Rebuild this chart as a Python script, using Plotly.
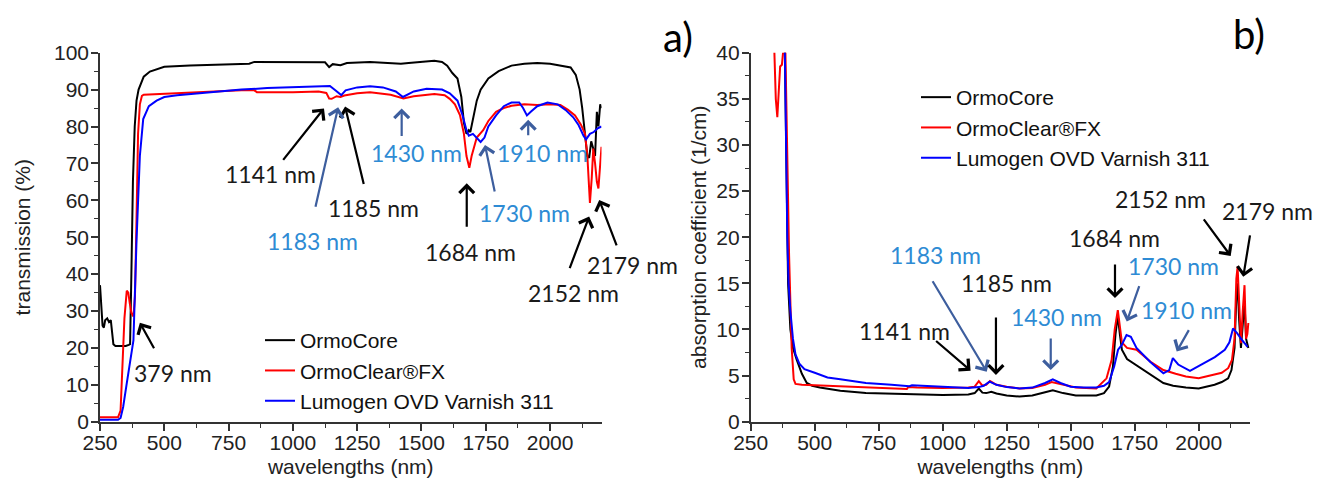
import plotly.graph_objects as go

# ---------------- data: panel a) transmission (%) ----------------
core_t_wl = [250, 255, 260, 265, 270, 278, 285, 292, 298, 302, 310, 330, 350, 362, 367, 372, 378, 385, 392,
             400, 420, 444, 470, 500, 600, 700, 755, 800, 830, 850, 900, 1000, 1100, 1125, 1141, 1155, 1185,
             1210, 1300, 1380, 1420, 1450, 1500, 1550, 1580, 1600, 1620, 1640, 1655, 1665, 1675, 1684, 1690,
             1700, 1715, 1730, 1760, 1800, 1850, 1900, 1950, 2000, 2050, 2080, 2100, 2115, 2125, 2135, 2145,
             2152, 2160, 2168, 2175, 2182, 2188, 2195, 2200]
core_t = [37, 30, 26, 25.5, 27.5, 28, 27, 27.5, 24, 21, 20.5, 20.5, 20.5, 20.8, 21, 40, 65, 80, 87,
          90, 93.5, 94.9, 95.6, 96.2, 96.5, 96.7, 96.9, 97.0, 97.0, 97.5, 97.5, 97.5, 97.6, 97.4, 96.1, 96.9, 96.6,
          97.2, 97.5, 97.3, 97.0, 97.2, 97.6, 97.8, 97.5, 96.5, 94.5, 93, 88, 81, 78, 79, 78.5,
          82, 87, 90, 93, 95, 96.5, 97, 97.2, 97, 96.5, 96, 94, 90, 85, 78, 72,
          71.5, 76, 74, 72, 84, 80, 86, 85]

clear_t_wl = [250, 320, 330, 338, 345, 354, 360, 366, 372, 380, 386, 392, 398, 405, 413, 420, 450, 500, 600,
              700, 800, 850, 860, 1000, 1100, 1130, 1141, 1151, 1170, 1185, 1200, 1250, 1300, 1380, 1430, 1470,
              1550, 1590, 1610, 1630, 1650, 1665, 1675, 1686, 1695, 1715, 1740, 1760, 1790, 1820, 1850, 1900,
              1950, 2000, 2040, 2070, 2097, 2120, 2136, 2145, 2155, 2162, 2168, 2175, 2182, 2188, 2194, 2200]
clear_t = [1.2, 1.2, 3, 15, 28, 35.5, 35, 32, 29.5, 28.5, 34, 55, 78, 86, 88.3, 88.6, 88.7, 88.9, 89.2,
           89.5, 89.8, 89.8, 89.3, 89.3, 89.5, 89.1, 87.6, 87.5, 88.2, 88, 88.4, 89, 89.3, 88.6, 87.6, 88.2,
           88.8, 88.5, 87.5, 86, 83, 78, 72, 68.8, 72, 77, 79, 81.5, 84, 85, 85.6, 86,
           85.8, 86, 85.8, 84.5, 83, 80.5, 78, 72, 59.3, 66, 74, 70, 65, 63.2, 70, 74.5]

lumo_t_wl = [250, 320, 330, 340, 354, 365, 380, 392, 405, 418, 440, 470, 500, 550, 600, 700, 755, 800, 900,
             1000, 1100, 1144, 1165, 1188, 1205, 1250, 1300, 1350, 1400, 1428, 1470, 1520, 1580, 1610, 1640,
             1660, 1675, 1684, 1700, 1715, 1730, 1745, 1760, 1790, 1820, 1850, 1880, 1895, 1910, 1925, 1950,
             1990, 2030, 2060, 2090, 2110, 2130, 2140, 2155, 2170, 2185, 2200]
lumo_t = [0.5, 0.5, 1, 4, 10.4, 15, 22, 49, 72, 82, 85.5, 87, 88, 88.5, 88.8, 89.5, 89.7, 90, 90.4,
          90.7, 91, 91, 89.8, 88.5, 89.8, 90.6, 90.9, 90.6, 89.5, 88, 89.5, 90.2, 90, 89, 87,
          83, 79, 77.5, 78, 77, 75.8, 77, 80, 83, 85.5, 86.5, 86.5, 85, 83, 84, 85.5,
          86.5, 86, 84.5, 82.5, 80.5, 77.5, 76.5, 78, 78.5, 79.5, 80]

# ---------------- data: panel b) absorption coefficient (1/cm) ----------------
core_a_wl = [383, 390, 396, 405, 415, 430, 450, 469, 490, 520, 600, 700, 800, 900, 1000, 1100, 1125, 1141,
             1155, 1170, 1190, 1210, 1250, 1300, 1350, 1400, 1430, 1470, 1520, 1600, 1630, 1650, 1665, 1675,
             1684, 1692, 1700, 1720, 1757, 1810, 1862, 1900, 1950, 2000, 2062, 2090, 2115, 2128, 2140, 2147,
             2152, 2158, 2165, 2172, 2179, 2185, 2190, 2194]
core_a = [41, 25, 15, 10, 8, 6.7, 5.2, 4.2, 3.9, 3.7, 3.35, 3.1, 3.05, 2.95, 2.9, 2.95, 3.1, 3.6,
          3.15, 3.1, 3.25, 3.05, 2.85, 2.72, 2.85, 3.2, 3.4, 3.1, 2.85, 2.85, 3.1, 3.8, 6, 9.5,
          11.5, 9.5, 7.8, 6.8, 6.1, 5.1, 4.2, 3.9, 3.7, 3.6, 4.0, 4.3, 4.7, 5.6, 8, 13.5,
          15, 11, 8, 10.5, 13, 9, 8.2, 8]

clear_a_wl = [342, 348, 354, 360, 365, 372, 378, 385, 392, 400, 410, 418, 425, 450, 500, 600, 700, 800, 860,
              865, 900, 1000, 1100, 1125, 1141, 1155, 1170, 1185, 1210, 1250, 1300, 1350, 1400, 1425, 1470,
              1520, 1600, 1640, 1660, 1672, 1684, 1692, 1700, 1720, 1757, 1812, 1862, 1910, 1950, 2000, 2062,
              2090, 2115, 2130, 2140, 2147, 2152, 2158, 2165, 2172, 2179, 2185, 2190, 2194]
clear_a = [40.5, 35, 33, 36, 38.5, 38.7, 40.5, 41, 30, 18, 8, 4.6, 4.1, 4.0, 3.95, 3.85, 3.7, 3.6, 3.55,
           3.75, 3.7, 3.65, 3.7, 3.8, 4.4, 3.9, 4.0, 4.4, 4.0, 3.8, 3.6, 3.65, 4.0, 4.3, 4.0,
           3.7, 3.6, 4.7, 6.7, 10, 12.1, 10, 8.6, 8.0, 7.8, 6.5, 5.6, 5.2, 4.9, 4.7, 5.1,
           5.3, 5.8, 6.7, 9, 15.5, 16.8, 12, 8.5, 12, 14.8, 9, 9.5, 10.7]

lumo_a_wl = [383, 388, 393, 398, 405, 415, 425, 440, 460, 500, 550, 600, 700, 800, 870, 880, 1000, 1100,
             1141, 1160, 1183, 1210, 1250, 1300, 1350, 1400, 1430, 1460, 1500, 1550, 1600, 1630, 1650, 1670,
             1685, 1699, 1718, 1735, 1757, 1810, 1862, 1885, 1899, 1920, 1966, 2000, 2063, 2102, 2120, 2134,
             2150, 2165, 2178, 2191]
lumo_a = [41, 30, 20, 15, 12, 9, 7.3, 6.3, 5.7, 5.3, 4.8, 4.6, 4.2, 4.0, 3.85, 3.95, 3.75, 3.65,
          3.75, 3.9, 4.35, 4.0, 3.75, 3.6, 3.7, 4.2, 4.6, 4.2, 3.8, 3.7, 3.7, 3.9, 4.3, 6,
          7.8, 8.3, 9.4, 9.2, 8.0, 6.5, 5.25, 5.6, 6.9, 6.2, 5.5, 6.0, 7.0, 7.8, 8.6, 10.1,
          9.6, 9.0, 8.5, 8.1]

series_names = ["OrmoCore", "OrmoClear®FX", "Lumogen OVD Varnish 311"]
series_colors = ["#000000", "#FF0000", "#0000FF"]

x_ticks = [250, 500, 750, 1000, 1250, 1500, 1750, 2000]
y_ticks_a = [0, 10, 20, 30, 40, 50, 60, 70, 80, 90, 100]
y_ticks_b = [0, 5, 10, 15, 20, 25, 30, 35, 40]

# annotation labels: (text, text_x, text_y, head_x, head_y, tail_dx_px, tail_dy_px, kind)
# text positions are given as fractions of the panel's axis domain (so labels may sit beyond 2200 nm)
labels_a = [
    ("1141 nm", 0.339, 0.671, 1121, 84.9, -42, 53, "k"),
    ("1185 nm", 0.546, 0.579, 1203, 85.4, 19, 79, "k"),
    ("1183 nm", 0.423, 0.490, 1176, 85.2, -23, 101, "b"),
    ("1430 nm", 0.631, 0.727, 1423, 84.9, 0, 29, "b"),
    ("1910 nm", 0.883, 0.729, 1915, 81.8, 0, 17, "b"),
    ("1730 nm", 0.846, 0.566, 1747, 75.0, 10, 48, "b"),
    ("1684 nm", 0.738, 0.461, 1676, 64.6, 0, 45, "k"),
    ("2152 nm", 0.944, 0.350, 2152, 55.6, -20, 53, "k"),
    ("2179 nm", 1.061, 0.425, 2191, 60.1, 18, 47, "k"),
    ("379 nm", 0.145, 0.131, 405, 26.8, 15, 27, "k"),
]
labels_b = [
    ("1141 nm", 0.308, 0.247, 1109, 5.53, -36, -31, "k"),
    ("1183 nm", 0.370, 0.452, 1172, 5.42, -55, -92, "b"),
    ("1185 nm", 0.513, 0.375, 1208, 5.07, 0, -59, "k"),
    ("1430 nm", 0.613, 0.285, 1422, 5.6, 0, -33, "b"),
    ("1684 nm", 0.728, 0.497, 1673, 13.4, 0, -35, "k"),
    ("1730 nm", 0.846, 0.422, 1719, 10.85, 13, -37, "b"),
    ("1910 nm", 0.873, 0.303, 1914, 7.6, 13, -23, "b"),
    ("2152 nm", 0.820, 0.603, 2125, 17.97, -28, -38, "k"),
    ("2179 nm", 1.036, 0.571, 2174, 15.7, 7, -43, "k"),
]

# ---------------- figure ----------------
AX_FONT = "Liberation Sans, Arial, sans-serif"
ANN_FONT = "Lato, Carlito, Calibri, sans-serif"
TEXT_COLORS = {"k": "#1a1a1a", "b": "#2E8BD4"}
ARROW_COLORS = {"k": "#000000", "b": "#3D5E9E"}
W, H = 1328, 496
OFF = 8  # page body margin in the browser

def px_x(p):
    return (p - OFF) / W

def px_y(p):
    return 1 - (p - OFF) / H

fig = go.Figure()

panel_a = [(core_t_wl, core_t), (clear_t_wl, clear_t), (lumo_t_wl, lumo_t)]
panel_b = [(core_a_wl, core_a), (clear_a_wl, clear_a), (lumo_a_wl, lumo_a)]

for (xs, ys), name, col in zip(panel_a, series_names, series_colors):
    fig.add_trace(go.Scatter(x=xs, y=ys, mode="lines", name=name, line=dict(color=col, width=2),
                             xaxis="x", yaxis="y", legend="legend"))
for (xs, ys), name, col in zip(panel_b, series_names, series_colors):
    fig.add_trace(go.Scatter(x=xs, y=ys, mode="lines", name=name, line=dict(color=col, width=2),
                             xaxis="x2", yaxis="y2", legend="legend2"))

TITLE_FONT = dict(family=AX_FONT, size=21, color="#222222")

def axis_style(**kw):
    d = dict(showgrid=False, zeroline=False, showline=True, linecolor="#333333", linewidth=1.6,
             ticks="outside", ticklen=7, tickwidth=1.6, tickcolor="#333333",
             tickfont=dict(family=AX_FONT, size=21, color="#222222"),
             mirror=False, automargin=False)
    d.update(kw)
    return d

minor_x = dict(dtick=125, tick0=250, ticks="outside", ticklen=4, tickcolor="#333333", tickwidth=1.4)
y_dom = [px_y(421.7), px_y(52.7)]

fig.update_layout(
    width=W, height=H,
    paper_bgcolor="white", plot_bgcolor="white",
    margin=dict(l=0, r=0, t=0, b=0),
    xaxis=axis_style(domain=[px_x(100), px_x(601.5)], range=[250, 2200], tickvals=x_ticks, minor=minor_x,
                     ticklabelstandoff=-6,
                     title=dict(text="wavelengths (nm)", font=TITLE_FONT, standoff=7), anchor="y"),
    yaxis=axis_style(domain=y_dom, range=[0, 100], tickvals=y_ticks_a, ticklabelstandoff=-2,
                     minor=dict(dtick=5, tick0=0, ticks="outside", ticklen=4, tickcolor="#333333", tickwidth=1.4),
                     title=dict(text="transmission (%)", font=TITLE_FONT, standoff=18), anchor="x"),
    xaxis2=axis_style(domain=[px_x(750.7), px_x(1249.9)], range=[250, 2200], tickvals=x_ticks, minor=minor_x,
                      ticklabelstandoff=-6,
                      title=dict(text="wavelengths (nm)", font=TITLE_FONT, standoff=7), anchor="y2"),
    yaxis2=axis_style(domain=y_dom, range=[0, 40], tickvals=y_ticks_b, ticklabelstandoff=-2,
                      minor=dict(dtick=2.5, tick0=0, ticks="outside", ticklen=4, tickcolor="#333333", tickwidth=1.4),
                      title=dict(text="absorption coefficient (1/cm)", font=TITLE_FONT, standoff=4), anchor="x2"),
    legend=dict(x=px_x(260), y=px_y(320), xanchor="left", yanchor="top", bgcolor="rgba(0,0,0,0)",
                font=dict(family=AX_FONT, size=21, color="#111111"), tracegroupgap=0),
    legend2=dict(x=px_x(916), y=px_y(77), xanchor="left", yanchor="top", bgcolor="rgba(0,0,0,0)",
                 font=dict(family=AX_FONT, size=21, color="#111111"), tracegroupgap=0),
    showlegend=True,
)

anns = []
for labels, xr, yr in [(labels_a, "x", "y"), (labels_b, "x2", "y2")]:
    for text, tx, ty, hx, hy, dx, dy, kind in labels:
        anns.append(dict(x=hx, y=hy, xref=xr, yref=yr, text="", showarrow=True, ax=dx, ay=dy,
                         arrowhead=4, arrowsize=1.3, arrowwidth=2.2, arrowcolor=ARROW_COLORS[kind]))
        anns.append(dict(x=tx, y=ty, xref=xr + " domain", yref=yr + " domain", text=text, showarrow=False,
                         font=dict(family=ANN_FONT, size=23, color=TEXT_COLORS[kind]),
                         xanchor="center", yanchor="middle"))

anns.append(dict(x=px_x(678), y=px_y(37), xref="paper", yref="paper", text="a)", showarrow=False,
                 font=dict(family=ANN_FONT, size=40, color="#000000"), xanchor="center", yanchor="middle"))
anns.append(dict(x=px_x(1249), y=px_y(34), xref="paper", yref="paper", text="b)", showarrow=False,
                 font=dict(family=ANN_FONT, size=40, color="#000000"), xanchor="center", yanchor="middle"))
fig.update_layout(annotations=anns)

fig.write_html("out.html")
